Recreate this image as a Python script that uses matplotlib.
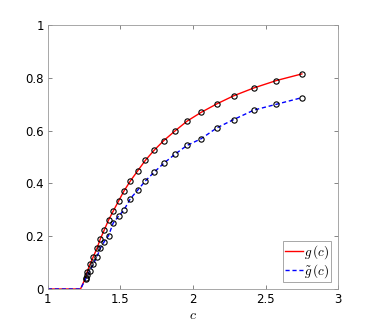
import matplotlib
matplotlib.use('Agg')
import matplotlib.pyplot as plt

plt.rcParams['mathtext.fontset'] = 'cm'
plt.rcParams['font.family'] = 'DejaVu Sans'

# sample points
c = [1.26, 1.271, 1.29, 1.313, 1.338, 1.361, 1.388, 1.418, 1.45, 1.487,
     1.524, 1.568, 1.618, 1.671, 1.731, 1.798, 1.874, 1.959, 2.055, 2.166,
     2.28, 2.42, 2.575, 2.75]
g = [0.043, 0.066, 0.093, 0.122, 0.154, 0.189, 0.223, 0.261, 0.295, 0.333,
     0.371, 0.409, 0.447, 0.487, 0.525, 0.562, 0.598, 0.636, 0.669, 0.702,
     0.732, 0.762, 0.79, 0.815]
g_tilde = [0.038, 0.053, 0.069, 0.095, 0.122, 0.154, 0.179, 0.202, 0.25, 0.276,
           0.299, 0.342, 0.374, 0.409, 0.442, 0.476, 0.51, 0.544, 0.569, 0.611,
           0.642, 0.678, 0.70, 0.725]
# flat part before the threshold
c_flat = [1.0, 1.225]
zero_flat = [0.0, 0.0]

fig = plt.figure(figsize=(3.74, 3.26), dpi=100)
ax = fig.add_axes([0.128, 0.1135, 0.776, 0.8095])

ax.plot(c_flat + c, zero_flat + g, color='red', lw=1.0, label=r'$g\,(c)$')
ax.plot(c_flat + c, zero_flat + g_tilde, color='blue', lw=1.0, ls='--',
        dashes=(3, 2), label=r'$\tilde{g}\,(c)$')
ax.plot(c, g, ls='none', marker='o', ms=3.8, mfc='none', mec='black', mew=0.8)
ax.plot(c, g_tilde, ls='none', marker='o', ms=3.8, mfc='none', mec='black', mew=0.8)

ax.set_xlim(1, 3)
ax.set_ylim(0, 1)
ax.set_xticks([1, 1.5, 2, 2.5, 3])
ax.set_xticklabels(['1', '1.5', '2', '2.5', '3'])
ax.set_yticks([0, 0.2, 0.4, 0.6, 0.8, 1])
ax.set_yticklabels(['0', '0.2', '0.4', '0.6', '0.8', '1'])
ax.tick_params(direction='in', top=True, right=True, length=3, width=0.5,
               color='#555555', labelsize=8.5, pad=3)
for s in ax.spines.values():
    s.set_color('#999999')
    s.set_linewidth(0.6)
ax.set_xlabel(r'$c$', fontsize=10, labelpad=1)

leg = ax.legend(loc='lower right', fontsize=9.5, handlelength=1.3, handletextpad=0.1,
                borderpad=0.2, labelspacing=0.05, borderaxespad=0.5, fancybox=False,
                framealpha=1)
leg.get_frame().set_edgecolor('#999999')
leg.get_frame().set_linewidth(0.6)

fig.savefig('out.png', dpi=100)
